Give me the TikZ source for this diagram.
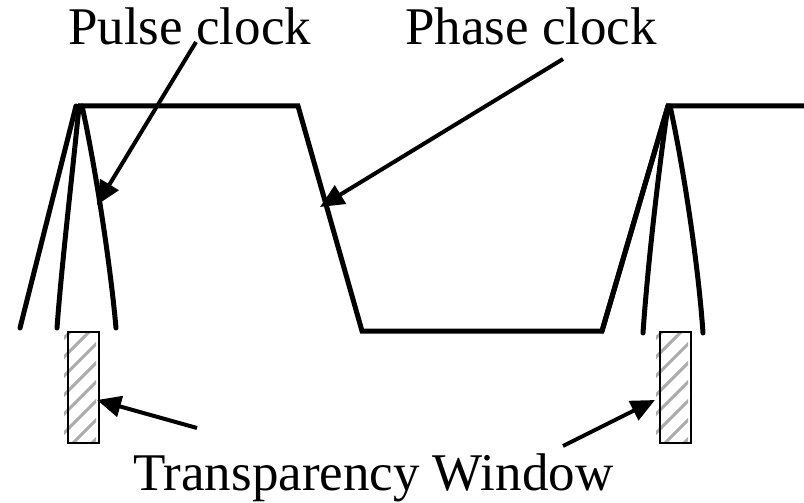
\documentclass[tikz,border=0pt]{standalone}
\usepackage{fontspec}
\setmainfont{Liberation Serif}
\usetikzlibrary{arrows.meta}
\begin{document}
\begin{tikzpicture}[x=1pt,y=-1pt,
    wave/.style={line width=5pt},
    pulse/.style={line width=5pt,line cap=round},
    pointer/.style={line width=4pt,-{Triangle[length=24pt,width=21pt]}},
    label/.style={inner sep=0pt,anchor=base west,font=\fontsize{53}{60}\selectfont}]
  \useasboundingbox (0,0) rectangle (804,503);
  % labels
  \node[label] (pulselbl) at (68,45) {Pulse clock};
  \node[label] (phaselbl) at (405,45) {Phase clock};
  \node[label] (windowlbl) at (133,490) {Transparency Window};
  % phase clock
  \draw[wave] (78,106) -- (298,106) -- (362,331) -- (602,331) -- (668,106) -- (804,106);
  % left pulse clock
  \draw[pulse] (20,328) -- (76,106);
  \draw[pulse] (57,328) .. controls (62,260) and (74,160) .. (79,106);
  \draw[pulse] (82,106) .. controls (94,160) and (110,260) .. (116,328);
  % right pulse clock
  \draw[pulse] (602,331) -- (668,106);
  \draw[pulse] (643,333) .. controls (648,260) and (660,160) .. (668,106);
  \draw[pulse] (670,106) .. controls (682,160) and (698,260) .. (703,333);
  % transparency windows
  \foreach \wx/\wname in {68/winA,660/winB}{
    \begin{scope}
      \clip (\wx-4,332) rectangle (\wx+28,443);
      \foreach \k in {0,...,9}
        \draw[gray!65,line width=3pt] (\wx-10,325+\k*19) -- (\wx+45,270+\k*19);
    \end{scope}
    \draw[line width=2pt] (\wx,332) rectangle (\wx+31,443);
  }
  % pointers
  \coordinate (pulsefrom) at (196,42);
  \coordinate (pulsetip) at (97,205);
  \coordinate (phasefrom) at (563,59);
  \coordinate (phasetip) at (320,207);
  \coordinate (winAfrom) at (197,428);
  \coordinate (winAtip) at (97,400);
  \coordinate (winBfrom) at (563,446);
  \coordinate (winBtip) at (655,400);
  \draw[pointer] (pulsefrom) -- (pulsetip);
  \draw[pointer] (phasefrom) -- (phasetip);
  \draw[pointer] (winAfrom) -- (winAtip);
  \draw[pointer] (winBfrom) -- (winBtip);
\end{tikzpicture}
\end{document}
